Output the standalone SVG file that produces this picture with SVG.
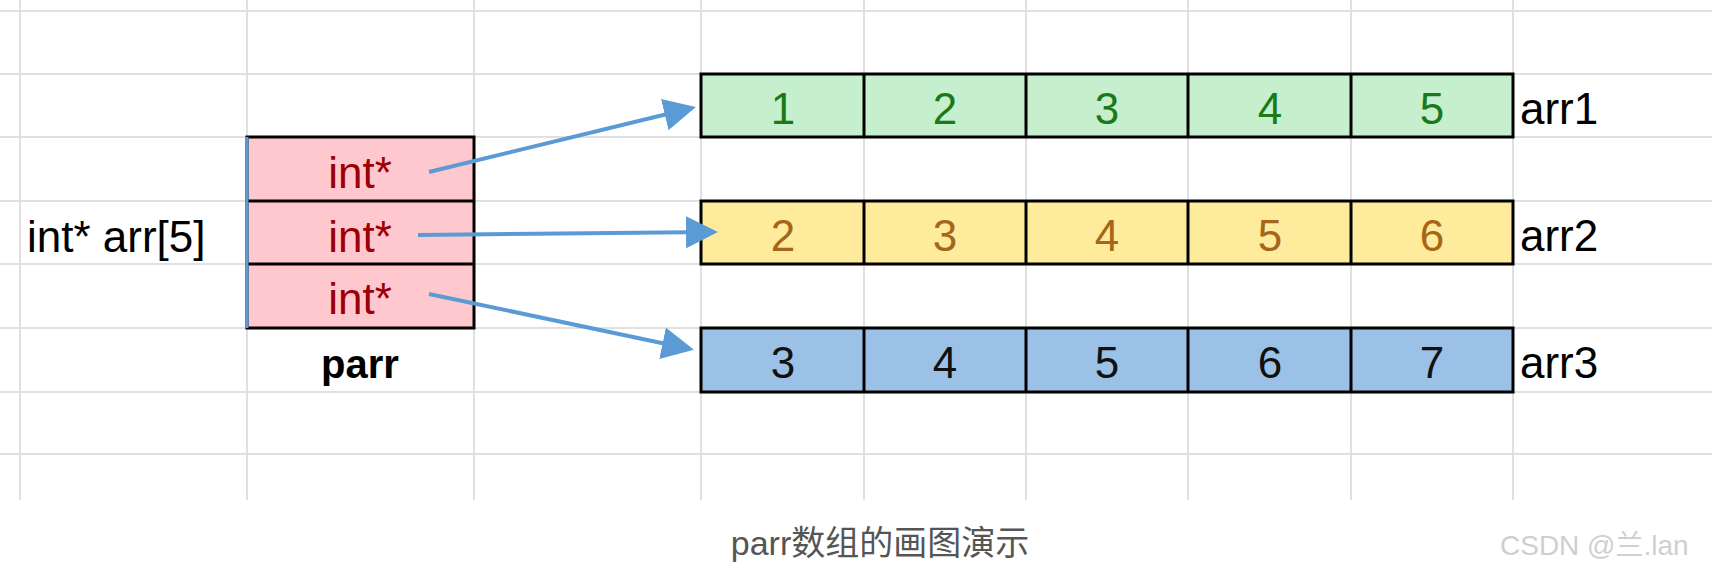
<svg xmlns="http://www.w3.org/2000/svg" width="1712" height="576" viewBox="0 0 1712 576">
<defs>
<style>
.g{stroke:#e0e0e0;stroke-width:2}
.c{stroke:#000;stroke-width:3}
.t{font-family:"Liberation Sans Narrow","Liberation Sans",sans-serif;font-size:44px;text-anchor:middle}
.l{font-family:"Liberation Sans Narrow","Liberation Sans",sans-serif;font-size:44px}
.a{stroke:#5B9BD5;stroke-width:4;fill:none;marker-end:url(#ah)}
</style>
<marker id="ah" markerWidth="8" markerHeight="8" refX="7" refY="4" orient="auto" markerUnits="strokeWidth"><path d="M0,0 L8,4 L0,8 Z" fill="#5B9BD5"/></marker>
</defs>
<rect width="1712" height="576" fill="#fff"/>
<g id="grid">
<line class="g" x1="0" y1="11" x2="1712" y2="11"/><line class="g" x1="0" y1="74" x2="1712" y2="74"/><line class="g" x1="0" y1="137" x2="1712" y2="137"/><line class="g" x1="0" y1="201" x2="1712" y2="201"/><line class="g" x1="0" y1="264" x2="1712" y2="264"/><line class="g" x1="0" y1="328" x2="1712" y2="328"/><line class="g" x1="0" y1="392" x2="1712" y2="392"/><line class="g" x1="0" y1="454" x2="1712" y2="454"/>
<line class="g" x1="20" y1="0" x2="20" y2="500"/><line class="g" x1="247" y1="0" x2="247" y2="500"/><line class="g" x1="474" y1="0" x2="474" y2="500"/><line class="g" x1="701" y1="0" x2="701" y2="500"/><line class="g" x1="864" y1="0" x2="864" y2="500"/><line class="g" x1="1026" y1="0" x2="1026" y2="500"/><line class="g" x1="1188" y1="0" x2="1188" y2="500"/><line class="g" x1="1351" y1="0" x2="1351" y2="500"/><line class="g" x1="1513" y1="0" x2="1513" y2="500"/>
</g>
<g id="parr">
<rect x="247" y="137" width="227" height="191" fill="#FFC7CE" class="c"/>
<line class="c" x1="247" y1="201" x2="474" y2="201"/><line class="c" x1="247" y1="264" x2="474" y2="264"/>
<line x1="247" y1="137" x2="247" y2="328" stroke="#5B9BD5" stroke-width="3"/>
<text class="t" x="360" y="188" fill="#9C0006">int*</text>
<text class="t" x="360" y="252" fill="#9C0006">int*</text>
<text class="t" x="360" y="314" fill="#9C0006">int*</text>
<text x="360" y="378" text-anchor="middle" font-family="Liberation Sans,sans-serif" font-weight="bold" font-size="40">parr</text>
</g>
<text id="decl" class="l" x="27" y="252">int* arr[5]</text>
<g id="arr1">
<rect x="701" y="74" width="812" height="63" fill="#C6EFCE" class="c"/>
<line class="c" x1="864" y1="74" x2="864" y2="137"/><line class="c" x1="1026" y1="74" x2="1026" y2="137"/><line class="c" x1="1188" y1="74" x2="1188" y2="137"/><line class="c" x1="1351" y1="74" x2="1351" y2="137"/>
<g fill="#1a7a1a"><text class="t" x="783" y="124">1</text><text class="t" x="945" y="124">2</text><text class="t" x="1107" y="124">3</text><text class="t" x="1270" y="124">4</text><text class="t" x="1432" y="124">5</text></g>
<text class="l" x="1520" y="124">arr1</text>
</g>
<g id="arr2">
<rect x="701" y="201" width="812" height="63" fill="#FFEB9C" class="c"/>
<line class="c" x1="864" y1="201" x2="864" y2="264"/><line class="c" x1="1026" y1="201" x2="1026" y2="264"/><line class="c" x1="1188" y1="201" x2="1188" y2="264"/><line class="c" x1="1351" y1="201" x2="1351" y2="264"/>
<g fill="#A5661A"><text class="t" x="783" y="251">2</text><text class="t" x="945" y="251">3</text><text class="t" x="1107" y="251">4</text><text class="t" x="1270" y="251">5</text><text class="t" x="1432" y="251">6</text></g>
<text class="l" x="1520" y="251">arr2</text>
</g>
<g id="arr3">
<rect x="701" y="328" width="812" height="64" fill="#9BC2E6" class="c"/>
<line class="c" x1="864" y1="328" x2="864" y2="392"/><line class="c" x1="1026" y1="328" x2="1026" y2="392"/><line class="c" x1="1188" y1="328" x2="1188" y2="392"/><line class="c" x1="1351" y1="328" x2="1351" y2="392"/>
<g fill="#111"><text class="t" x="783" y="378">3</text><text class="t" x="945" y="378">4</text><text class="t" x="1107" y="378">5</text><text class="t" x="1270" y="378">6</text><text class="t" x="1432" y="378">7</text></g>
<text class="l" x="1520" y="378">arr3</text>
</g>
<g id="connectors">
<path class="a" d="M429,172 L692,108"/>
<path class="a" d="M418,235 L714,232"/>
<path class="a" d="M429,294 L690,349"/>
</g>
<text x="880" y="555" text-anchor="middle" font-family="Liberation Sans,'Noto Sans CJK SC',sans-serif" font-size="34" fill="#555">parr数组的画图演示</text>
<text x="1500" y="555" font-family="Liberation Sans,'Noto Sans CJK SC',sans-serif" font-size="28" fill="#cfcfcf">CSDN @兰.lan</text>
</svg>
